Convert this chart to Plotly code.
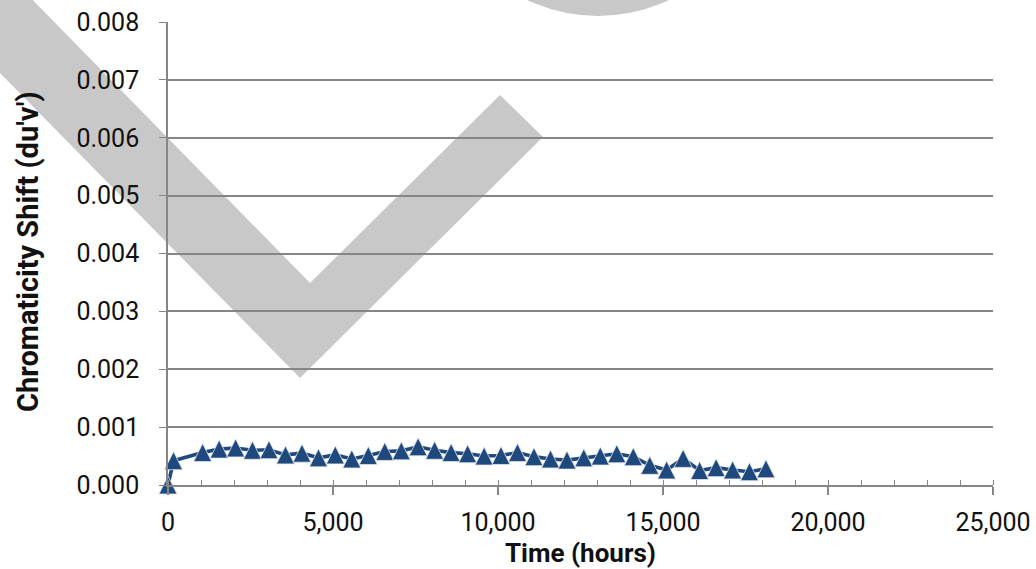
import plotly.graph_objects as go

# Time on test (hours) and chromaticity shift (du'v')
hours = [0, 168, 1050, 1550, 2050, 2560, 3060, 3560, 4060, 4560, 5070, 5570,
         6070, 6570, 7070, 7580, 8080, 8580, 9080, 9580, 10090, 10590, 11090,
         11590, 12090, 12600, 13100, 13600, 14100, 14600, 15110, 15610, 16110,
         16610, 17110, 17620, 18120]
shift = [0.0, 0.00042, 0.00056, 0.00062, 0.00064, 0.00060, 0.00061, 0.00052,
         0.00055, 0.00047, 0.00052, 0.00045, 0.00051, 0.00058, 0.00059, 0.00066,
         0.00060, 0.00056, 0.00054, 0.00050, 0.00051, 0.00056, 0.00049, 0.00045,
         0.00043, 0.00047, 0.00050, 0.00054, 0.00049, 0.00034, 0.00026, 0.00046,
         0.00025, 0.00030, 0.00026, 0.00023, 0.00028]

x_ticks = [0, 5000, 10000, 15000, 20000, 25000]
y_range = [0, 0.008]

blue = "#1f497d"
grid = "#868686"
watermark = "#c8c8c8"
font = "Roboto"

W, H = 1036, 569
L, R, T, B = 168, 43, 22, 84
pw, ph = W - L - R, H - T - B


def paper(x, y):
    # pixel position -> paper fraction
    return (x - L) / pw, (H - B - y) / ph


# background check mark watermark (pixel outline)
check = [(-131, -60), (-26, -60), (310, 283), (500, 95), (543, 137), (300, 378)]
pts = [paper(x, y) for x, y in check]
check_path = "M" + " L".join(f"{x:.4f},{y:.4f}" for x, y in pts) + " Z"

cx, cy, cr = 598, -150, 166
c0 = paper(cx - cr, cy + cr)
c1 = paper(cx + cr, cy - cr)

# arrow-up markers have their tip on the point, so lift them by half a marker
msize = 18
lift = msize / 2 * (y_range[1] - y_range[0]) / ph

fig = go.Figure()
fig.add_trace(go.Scatter(
    x=hours, y=shift, mode="lines",
    line=dict(color=blue, width=3.6),
    cliponaxis=False, showlegend=False, hoverinfo="skip",
))
fig.add_trace(go.Scatter(
    x=hours, y=shift, yaxis="y2", mode="markers",
    marker=dict(symbol="arrow-up", size=msize, color=blue,
                line=dict(width=0.8, color="#dfe6ef")),
    cliponaxis=False, showlegend=False,
))

fig.update_layout(
    width=W, height=H,
    margin=dict(l=L, r=R, t=T, b=B),
    paper_bgcolor="white", plot_bgcolor="rgba(0,0,0,0)",
    font=dict(family=font, color="#111111"),
    shapes=[
        dict(type="path", path=check_path, xref="paper", yref="paper",
             fillcolor=watermark, line=dict(width=0), layer="below"),
        dict(type="circle", xref="paper", yref="paper",
             x0=c0[0], y0=c0[1], x1=c1[0], y1=c1[1],
             fillcolor=watermark, line=dict(width=0), layer="below"),
    ],
    xaxis=dict(
        range=[0, 25000], tickvals=x_ticks, tickformat=",d",
        showgrid=False, zeroline=False, automargin=False,
        showline=True, linecolor=grid, linewidth=1.6,
        ticks="outside", ticklen=8, tickwidth=1.5, tickcolor=grid,
        minor=dict(dtick=1000, ticks="inside", ticklen=5, tickwidth=1.2,
                   tickcolor=grid, showgrid=False),
        tickfont=dict(size=25, family=font),
        ticklabelstandoff=6,
    ),
    yaxis=dict(
        range=y_range, dtick=0.001, tickformat=".3f",
        showgrid=True, gridcolor=grid, gridwidth=1.5, zeroline=False,
        automargin=False,
        showline=True, linecolor=grid, linewidth=1.6,
        ticks="outside", ticklen=7, tickwidth=1.3, tickcolor=grid,
        tickfont=dict(size=25, family=font),
        ticklabelstandoff=15,
    ),
    yaxis2=dict(
        overlaying="y", range=[y_range[0] - lift, y_range[1] - lift],
        visible=False, automargin=False,
    ),
    annotations=[
        dict(text="<b>Chromaticity Shift (du'v')</b>", xref="paper", yref="paper",
             x=paper(28, 0)[0], y=paper(0, 252)[1], textangle=-90,
             showarrow=False, xanchor="center", yanchor="middle",
             font=dict(size=29, family=font, color="#111111")),
        dict(text="<b>Time (hours)</b>", xref="paper", yref="paper",
             x=paper(580, 0)[0], y=paper(0, 553)[1],
             showarrow=False, xanchor="center", yanchor="middle",
             font=dict(size=26, family=font, color="#111111")),
    ],
)

fig.write_html("out.html", config={"displayModeBar": False},
               post_script="document.body.style.margin='0';")
